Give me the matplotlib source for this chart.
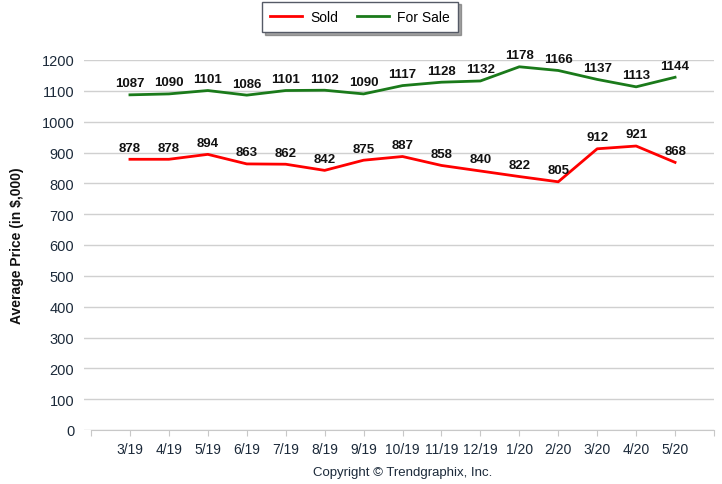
import matplotlib
matplotlib.use("Agg")
import matplotlib.pyplot as plt
from matplotlib.lines import Line2D

months = ["3/19", "4/19", "5/19", "6/19", "7/19", "8/19", "9/19", "10/19",
          "11/19", "12/19", "1/20", "2/20", "3/20", "4/20", "5/20"]
sold = [878, 878, 894, 863, 862, 842, 875, 887, 858, 840, 822, 805, 912, 921, 868]
for_sale = [1087, 1090, 1101, 1086, 1101, 1102, 1090, 1117, 1128, 1132, 1178, 1166, 1137, 1113, 1144]

W, H = 722, 485
fig = plt.figure(figsize=(W / 100, H / 100), dpi=100)
ax = fig.add_axes([84 / W, 54 / H, (714 - 84) / W, (431 - 61) / H])

red = "#ff0000"
green = "#1a7a1a"
x = list(range(len(months)))
ax.plot(x, for_sale, color=green, lw=2, zorder=3)
ax.plot(x, sold, color=red, lw=2, zorder=3)

for series in (for_sale, sold):
    for xi, v in zip(x, series):
        ax.annotate(str(v), (xi, v), xytext=(0, 4), textcoords="offset points",
                    ha="center", va="bottom", fontsize=9.5, fontweight="bold",
                    family="Liberation Sans", color="#111111")

ax.set_ylim(0, 1200)
ax.set_yticks(range(0, 1201, 100))
ax.set_xlim(-1.18, 15)
ax.set_xticks(list(range(-1, 16)))
ax.set_xticklabels([""] + months + [""])
ax.grid(axis="y", color="#d0d0d0", lw=1)
ax.set_axisbelow(True)
for s in ["top", "right", "left"]:
    ax.spines[s].set_visible(False)
ax.spines["bottom"].set_color("#c8c8c8")
ax.spines["bottom"].set_bounds(-1, 15)
ax.tick_params(axis="y", length=0, pad=7, labelsize=10.5, labelcolor="#1c2a3a")
ax.tick_params(axis="x", length=4, color="#c8c8c8", labelsize=10, labelcolor="#1c2a3a", pad=5)
for lab in ax.get_xticklabels() + ax.get_yticklabels():
    lab.set_family("Liberation Sans")

fig.text(17 / W, (485 - 246) / H, "Average Price (in $,000)", rotation=90,
         ha="center", va="center", fontsize=10, fontweight="bold",
         family="Liberation Sans", color="#111111")
fig.text(403 / W, (485 - 473) / H, "Copyright \u00a9 Trendgraphix, Inc.",
         ha="center", va="center", fontsize=9.5, family="Liberation Sans",
         color="#1c2a3a")

handles = [Line2D([], [], color=red, lw=2), Line2D([], [], color=green, lw=2)]
leg = fig.legend(handles, ["Sold", "For Sale"], loc="center",
                 bbox_to_anchor=(360 / W, (485 - 18) / H), ncol=2,
                 frameon=True, fancybox=False, shadow=True,
                 handlelength=2.3, columnspacing=1.3, borderpad=0.6,
                 handletextpad=0.6, borderaxespad=0,
                 prop={"family": "Liberation Sans", "size": 10})
leg.get_frame().set_edgecolor("#555a66")
leg.get_frame().set_linewidth(1)

fig.savefig("out.png", dpi=100)
